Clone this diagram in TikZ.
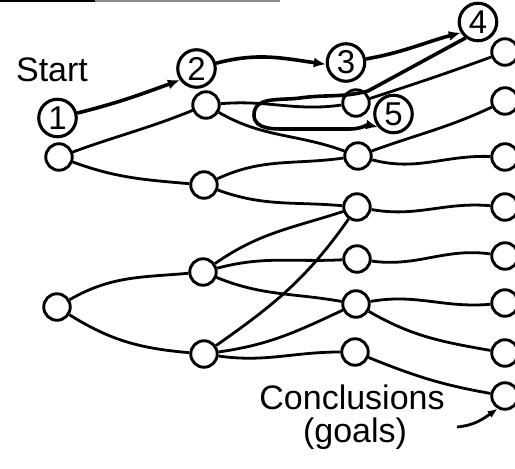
\documentclass[tikz,border=0pt]{standalone}
\usepackage{fontspec}
\setmainfont{Liberation Sans}
\usetikzlibrary{arrows.meta}
\begin{document}
\begin{tikzpicture}[x=1pt,y=1pt,
  state/.style={circle,draw,line width=2.9pt,minimum size=26.5pt,inner sep=0pt},
  numstate/.style={circle,draw,line width=3.1pt,minimum size=37.5pt,inner sep=0pt,
    font=\fontsize{33}{33}\selectfont},
  link/.style={line width=2.8pt},
  walk/.style={line width=3.6pt,-{Latex[length=12pt,width=10pt]}},
  lbl/.style={font=\fontsize{34}{40}\selectfont,inner sep=0pt,anchor=base}]
\useasboundingbox (0,0) rectangle (515,469);

% ragged edge along the top of the sheet
\draw[line width=3pt] (0,468) -- (95,468);
\draw[line width=1.5pt,black!45] (95,468) -- (280,468);

% first column
\node[numstate] (s1) at (57.5,351) {1};
\node[state] (a2) at (59,312) {};
\node[state] (a3) at (57,162) {};

% second column
\node[numstate] (s2) at (196.5,400.5) {2};
\node[state] (b1) at (206,364) {};
\node[state] (b2) at (204,284) {};
\node[state] (b3) at (203,197) {};
\node[state] (b4) at (204,115) {};

% third column
\node[numstate] (s3) at (346,406.5) {3};
\node[state] (c1) at (356,366) {};
\node[numstate] (s5) at (393.5,355) {5};
\node[state] (c2) at (358,313) {};
\node[state] (c3) at (357,262) {};
\node[state] (c4) at (357,210) {};
\node[state] (c5) at (356,165) {};
\node[state] (c6) at (355,117) {};

% last column (conclusions)
\node[numstate] (s4) at (478,447) {4};
\node[state] (d1) at (505,417) {};
\node[state] (d2) at (505,368) {};
\node[state] (d3) at (505,312) {};
\node[state] (d4) at (505,262) {};
\node[state] (d5) at (505,213) {};
\node[state] (d6) at (505,166) {};
\node[state] (d7) at (505,116) {};
\node[state] (d8) at (505,73) {};

% labels
\node[lbl] (start) at (52,387) {Start};
\node[lbl] (conc) at (352,59) {Conclusions};
\node[lbl] (goals) at (355,26) {(goals)};
\coordinate (ctail) at (457,42);

% first to second column
\draw[link] (a2) to[out=20,in=202] (b1);
\draw[link] (a2) to[out=-20,in=175] (b2);
\draw[link] (a3) to[out=30,in=185] (b3);
\draw[link] (a3) to[out=-32,in=175] (b4);

% second to third column
\draw[link] (b1) to[out=5,in=188] (c1);
\draw[link] (b1) to[out=-30,in=160] (c2);
\draw[link] (b2) to[out=25,in=188] (c2);
\draw[link] (b2) to[out=-20,in=175] (c3);
\draw[link] (b3) to[out=35,in=198] (c3);
\draw[link] (b3) to[out=15,in=183] (c4);
\draw[link] (b3) to[out=-22,in=170] (c5);
\draw[link] (b4) to[out=35,in=235] (c3);
\draw[link] (b4) to[out=8,in=205] (c5);
\draw[link] (b4) to[out=-8,in=180] (c6);

% third to last column
\draw[link] (c1) to[out=18,in=200] (d1);
\draw[link] (c2) to[out=20,in=205] (d2);
\draw[link] (c2) to[out=-15,in=178] (d3);
\draw[link] (c3) to[out=-10,in=175] (d4);
\draw[link] (c4) to[out=-8,in=172] (d5);
\draw[link] (c5) to[out=10,in=185] (d6);
\draw[link] (c5) to[out=-30,in=170] (d7);
\draw[link] (c6) to[out=-22,in=170] (d8);

% the search walk 1-2-3-4, then back to 5
\draw[walk] (s1) to[out=14,in=200] (s2.215);
\draw[walk] (s2) to[out=15,in=172] (s3.185);
\draw[walk] (s3) to[out=10,in=195] (s4.212);
\draw[walk] (s4.232) -- (368,378) to[out=195,in=8] (300,371)
  to[out=188,in=90] (254,354) to[out=-90,in=180] (290,340)
  -- (350,340) to[out=0,in=168] (s5.220);

% pointer to the conclusions
\draw[link,-{Latex[length=10pt,width=8pt]}] (ctail) to[out=5,in=215] (d8.240);
\end{tikzpicture}
\end{document}
